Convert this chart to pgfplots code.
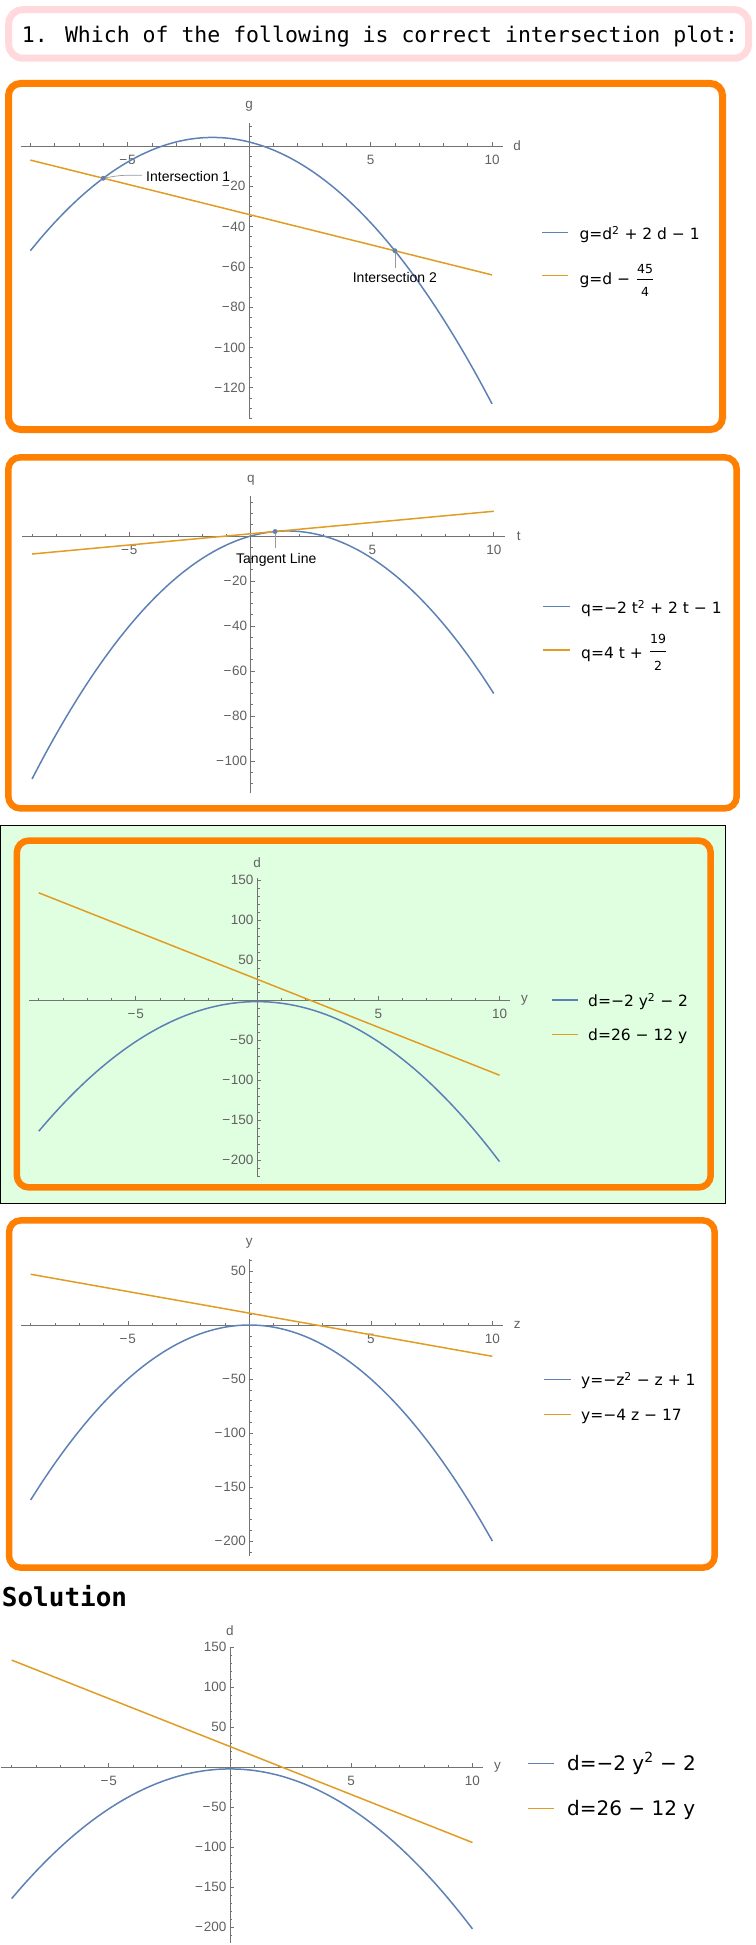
\documentclass[border=0pt]{standalone}
\usepackage{fontspec}
\setmainfont{Liberation Sans}
\newfontfamily\monofont{DejaVu Sans Mono}
\newfontfamily\legff{DejaVu Sans}
\usepackage{pgfplots}
\usepackage{pgfplotstable}
\pgfplotsset{compat=1.18}

\definecolor{mblue}{rgb}{0.368417,0.506779,0.709798}
\definecolor{morange}{rgb}{0.880722,0.611041,0.142051}
\definecolor{boxorange}{RGB}{255,127,0}
\definecolor{boxpink}{RGB}{255,217,220}
\definecolor{bggreen}{RGB}{224,255,224}
\definecolor{axgray}{gray}{0.45}
\definecolor{tkgray}{gray}{0.38}
\definecolor{leadgray}{gray}{0.6}

\newcommand\tickfont{\fontsize{13.5}{15}\selectfont}
\newcommand\legfont{\legff\fontsize{15.5}{18}\selectfont}
\newcommand\bigleg{\legff\fontsize{20}{24}\selectfont}
\newcommand\fracfont{\legff\fontsize{12.5}{14}\selectfont}
\newcommand\annfont{\fontsize{14}{16}\selectfont}
\newcommand\mn{−\kern0.8pt}

\pgfplotsset{
  mstyle/.style={
    axis lines=middle,
    axis line style={-, draw=axgray, line width=0.7pt},
    scale only axis,
    clip=false,
    anchor=south west,
    tick align=inside,
    major tick length=4pt,
    minor tick length=2.5pt,
    every tick/.style={draw=axgray, line width=0.6pt},
    tick label style={font=\tickfont, text=tkgray},
    xticklabel style={anchor=north, yshift=-5.5pt},
    yticklabel style={anchor=east},
    xtick={-5,5,10},
    xticklabels={\mn5,5,10},
    minor xtick={-9,-8,...,10},
    xmin=-9.4, xmax=10.45,
  },
  blueline/.style={mblue, line width=1.5pt, smooth},
  orangeline/.style={morange, line width=1.5pt},
}

\begin{document}
\begin{tikzpicture}
\path[use as bounding box] (0pt,0pt) rectangle (755pt,-1945pt);

% title box
\draw[boxpink, line width=7pt, fill=white, rounded corners=14pt] (8.7pt,-9.7pt) rectangle (748.5pt,-58.2pt);
\node[anchor=base west, inner sep=0pt] at (21.7pt,-42.3pt) {\monofont\fontsize{21.5}{24}\selectfont 1. Which of the following is correct intersection plot:};

% panel boxes
\draw[boxorange, line width=7pt, rounded corners=12pt] (8.5pt,-83.5pt) rectangle (722.5pt,-429.5pt);
\draw[boxorange, line width=6.5pt, rounded corners=12pt] (8.3pt,-457.3pt) rectangle (736.7pt,-808.4pt);
\draw[black, line width=0.8pt, fill=bggreen] (0.5pt,-825pt) rectangle (725.7pt,-1203pt);
\draw[boxorange, line width=6.5pt, rounded corners=12pt] (16.8pt,-840.6pt) rectangle (710.7pt,-1187.4pt);
\draw[boxorange, line width=6.5pt, rounded corners=12pt] (9pt,-1220.3pt) rectangle (714.7pt,-1567.7pt);

\node[anchor=base west, inner sep=0pt] at (1.7pt,-1606.7pt) {\monofont\bfseries\fontsize{26}{28}\selectfont Solution};

% ---------------- Panel 1 ----------------
\begin{axis}[mstyle,
  at={(20.6pt,-418pt)}, width=482.4pt, height=295.4pt,
  ymin=-135, ymax=11.6,
  ytick={-120,-100,-80,-60,-40,-20},
  yticklabels={\mn120,\mn100,\mn80,\mn60,\mn40,\mn20},
  minor ytick={-135,-130,...,10},
  xlabel={d}, ylabel={g},
  every axis x label/.style={at={(axis description cs:1,0.9209)}, anchor=center, xshift=14pt, font=\tickfont, text=tkgray},
  every axis y label/.style={at={(axis description cs:0.4736,1)}, anchor=center, yshift=16pt, font=\tickfont, text=tkgray},
]
\addplot[blueline] table {
x y
-9 -52
-8.5 -44.75
-8 -38
-7.5 -31.75
-7 -26
-6.5 -20.75
-6 -16
-5.5 -11.75
-5 -8
-4.5 -4.75
-4 -2
-3.5 0.25
-3 2
-2.5 3.25
-2 4
-1.5 4.25
-1 4
-0.5 3.25
0 2
0.5 0.25
1 -2
1.5 -4.75
2 -8
2.5 -11.75
3 -16
3.5 -20.75
4 -26
4.5 -31.75
5 -38
5.5 -44.75
6 -52
6.5 -59.75
7 -68
7.5 -76.75
8 -86
8.5 -95.75
9 -106
9.5 -116.75
10 -128
};
\addplot[orangeline] table {
x y
-9 -7
10 -64
};
\draw[leadgray, line width=0.7pt] (axis cs:-6,-16) .. controls (axis cs:-5.3,-14.5) .. (axis cs:-4.4,-14.5);
\draw[leadgray, line width=0.7pt] (axis cs:6,-52) -- (axis cs:6,-60.5);
\addplot[only marks, mark=*, mark size=2.2pt, mblue] table {
x y
-6 -16
6 -52
};
\node[anchor=west, inner sep=0pt, font=\annfont] at (axis cs:-4.24,-15.2) {Intersection 1};
\node[anchor=center, inner sep=0pt, font=\annfont] at (axis cs:6,-65.4) {Intersection 2};
\end{axis}

% ---------------- Panel 2 ----------------
\begin{axis}[mstyle,
  at={(22.3pt,-793.4pt)}, width=482.4pt, height=297pt,
  ymin=-114.4, ymax=17.6,
  ytick={-100,-80,-60,-40,-20},
  yticklabels={\mn100,\mn80,\mn60,\mn40,\mn20},
  minor ytick={-110,-105,...,15},
  xlabel={t}, ylabel={q},
  every axis x label/.style={at={(axis description cs:1,0.8667)}, anchor=center, xshift=14pt, font=\tickfont, text=tkgray},
  every axis y label/.style={at={(axis description cs:0.4736,1)}, anchor=center, yshift=16pt, font=\tickfont, text=tkgray},
]
\addplot[blueline] table {
x y
-9 -108
-8.5 -97.75
-8 -88
-7.5 -78.75
-7 -70
-6.5 -61.75
-6 -54
-5.5 -46.75
-5 -40
-4.5 -33.75
-4 -28
-3.5 -22.75
-3 -18
-2.5 -13.75
-2 -10
-1.5 -6.75
-1 -4
-0.5 -1.75
0 0
0.5 1.25
1 2
1.5 2.25
2 2
2.5 1.25
3 0
3.5 -1.75
4 -4
4.5 -6.75
5 -10
5.5 -13.75
6 -18
6.5 -22.75
7 -28
7.5 -33.75
8 -40
8.5 -46.75
9 -54
9.5 -61.75
10 -70
};
\addplot[orangeline] table {
x y
-9 -8
10 11
};
\draw[leadgray, line width=0.7pt] (axis cs:1,2) -- (axis cs:1,-5.2);
\addplot[only marks, mark=*, mark size=2.2pt, mblue] table {
x y
1 2
};
\node[anchor=center, inner sep=0pt, font=\annfont] at (axis cs:1.05,-10.4) {Tangent Line};
\end{axis}

% ---------------- Panel 3 ----------------
\begin{axis}[mstyle,
  at={(29.05pt,-1176pt)}, width=481.4pt, height=297.6pt,
  ymin=-220, ymax=152,
  ytick={-200,-150,-100,-50,50,100,150},
  yticklabels={\mn200,\mn150,\mn100,\mn50,50,100,150},
  minor ytick={-220,-210,...,150},
  xlabel={y}, ylabel={d},
  every axis x label/.style={at={(axis description cs:1,0.5914)}, anchor=center, xshift=14pt, font=\tickfont, text=tkgray},
  every axis y label/.style={at={(axis description cs:0.4736,1)}, anchor=center, yshift=16pt, font=\tickfont, text=tkgray},
]
\addplot[blueline] table {
x y
-9 -164
-8.5 -146.5
-8 -130
-7.5 -114.5
-7 -100
-6.5 -86.5
-6 -74
-5.5 -62.5
-5 -52
-4.5 -42.5
-4 -34
-3.5 -26.5
-3 -20
-2.5 -14.5
-2 -10
-1.5 -6.5
-1 -4
-0.5 -2.5
0 -2
0.5 -2.5
1 -4
1.5 -6.5
2 -10
2.5 -14.5
3 -20
3.5 -26.5
4 -34
4.5 -42.5
5 -52
5.5 -62.5
6 -74
6.5 -86.5
7 -100
7.5 -114.5
8 -130
8.5 -146.5
9 -164
9.5 -182.5
10 -202
};
\addplot[orangeline] table {
x y
-9 134
10 -94
};
\end{axis}

% ---------------- Panel 4 ----------------
\begin{axis}[mstyle,
  at={(20.9pt,-1555.7pt)}, width=482.4pt, height=296.6pt,
  ymin=-213.6, ymax=61,
  ytick={-200,-150,-100,-50,50},
  yticklabels={\mn200,\mn150,\mn100,\mn50,50},
  minor ytick={-210,-200,...,60},
  xlabel={z}, ylabel={y},
  every axis x label/.style={at={(axis description cs:1,0.7779)}, anchor=center, xshift=14pt, font=\tickfont, text=tkgray},
  every axis y label/.style={at={(axis description cs:0.4736,1)}, anchor=center, yshift=16pt, font=\tickfont, text=tkgray},
]
\addplot[blueline] table {
x y
-9 -162
-8.5 -144.5
-8 -128
-7.5 -112.5
-7 -98
-6.5 -84.5
-6 -72
-5.5 -60.5
-5 -50
-4.5 -40.5
-4 -32
-3.5 -24.5
-3 -18
-2.5 -12.5
-2 -8
-1.5 -4.5
-1 -2
-0.5 -0.5
0 0
0.5 -0.5
1 -2
1.5 -4.5
2 -8
2.5 -12.5
3 -18
3.5 -24.5
4 -32
4.5 -40.5
5 -50
5.5 -60.5
6 -72
6.5 -84.5
7 -98
7.5 -112.5
8 -128
8.5 -144.5
9 -162
9.5 -180.5
10 -200
};
\addplot[orangeline] table {
x y
-9 47
10 -29
};
\end{axis}

% ---------------- Panel 5 (solution) ----------------
\begin{axis}[mstyle,
  at={(0.8pt,-1942.5pt)}, width=482.6pt, height=296pt,
  xmin=-9.45, xmax=10.45,
  ymin=-219, ymax=151,
  ytick={-200,-150,-100,-50,50,100,150},
  yticklabels={\mn200,\mn150,\mn100,\mn50,50,100,150},
  minor ytick={-210,-200,...,150},
  xlabel={y}, ylabel={d},
  every axis x label/.style={at={(axis description cs:1,0.5919)}, anchor=center, xshift=14pt, font=\tickfont, text=tkgray},
  every axis y label/.style={at={(axis description cs:0.4749,1)}, anchor=center, yshift=16pt, font=\tickfont, text=tkgray},
]
\addplot[blueline] table {
x y
-9 -164
-8.5 -146.5
-8 -130
-7.5 -114.5
-7 -100
-6.5 -86.5
-6 -74
-5.5 -62.5
-5 -52
-4.5 -42.5
-4 -34
-3.5 -26.5
-3 -20
-2.5 -14.5
-2 -10
-1.5 -6.5
-1 -4
-0.5 -2.5
0 -2
0.5 -2.5
1 -4
1.5 -6.5
2 -10
2.5 -14.5
3 -20
3.5 -26.5
4 -34
4.5 -42.5
5 -52
5.5 -62.5
6 -74
6.5 -86.5
7 -100
7.5 -114.5
8 -130
8.5 -146.5
9 -164
9.5 -182.5
10 -202
};
\addplot[orangeline] table {
x y
-9 134
10 -94
};
\end{axis}

% ---------------- Legends ----------------
% panel 1
\draw[mblue, line width=1.5pt] (542pt,-232.7pt) -- (568pt,-232.7pt);
\node[anchor=base west, inner sep=0pt] at (579.3pt,-239.3pt) {\legfont g=d\textsuperscript{2} + 2 d − 1};
\draw[morange, line width=1.5pt] (542pt,-275.7pt) -- (568pt,-275.7pt);
\node[anchor=base west, inner sep=0pt] at (579.3pt,-284pt) {\legfont g=d − };
\node[inner sep=0pt] at (645pt,-269pt) {\fracfont 45};
\draw[black, line width=0.6pt] (637pt,-279pt) -- (653pt,-279pt);
\node[inner sep=0pt] at (645pt,-291.7pt) {\fracfont 4};
% panel 2
\draw[mblue, line width=1.5pt] (543pt,-606.7pt) -- (570pt,-606.7pt);
\node[anchor=base west, inner sep=0pt] at (581pt,-613.3pt) {\legfont q=−2 t\textsuperscript{2} + 2 t − 1};
\draw[morange, line width=1.5pt] (543pt,-650pt) -- (570pt,-650pt);
\node[anchor=base west, inner sep=0pt] at (581pt,-658.3pt) {\legfont q=4 t + };
\node[inner sep=0pt] at (658pt,-639pt) {\fracfont 19};
\draw[black, line width=0.6pt] (650pt,-651pt) -- (666pt,-651pt);
\node[inner sep=0pt] at (658pt,-666pt) {\fracfont 2};
% panel 3
\draw[mblue, line width=1.5pt] (552pt,-1000pt) -- (578pt,-1000pt);
\node[anchor=base west, inner sep=0pt] at (588pt,-1006.6pt) {\legfont d=−2 y\textsuperscript{2} − 2};
\draw[morange, line width=1.5pt] (552pt,-1034.3pt) -- (578pt,-1034.3pt);
\node[anchor=base west, inner sep=0pt] at (588pt,-1040.9pt) {\legfont d=26 − 12 y};
% panel 4
\draw[mblue, line width=1.5pt] (544pt,-1379.3pt) -- (571pt,-1379.3pt);
\node[anchor=base west, inner sep=0pt] at (581pt,-1385.9pt) {\legfont y=−z\textsuperscript{2} − z + 1};
\draw[morange, line width=1.5pt] (544pt,-1414.3pt) -- (571pt,-1414.3pt);
\node[anchor=base west, inner sep=0pt] at (581pt,-1420.9pt) {\legfont y=−4 z − 17};
% panel 5
\draw[mblue, line width=1.6pt] (528pt,-1763.3pt) -- (554pt,-1763.3pt);
\node[anchor=base west, inner sep=0pt] at (567pt,-1770.3pt) {\bigleg d=−2 y\textsuperscript{2} − 2};
\draw[morange, line width=1.6pt] (528pt,-1808.3pt) -- (554pt,-1808.3pt);
\node[anchor=base west, inner sep=0pt] at (567pt,-1815.3pt) {\bigleg d=26 − 12 y};
\end{tikzpicture}
\end{document}
